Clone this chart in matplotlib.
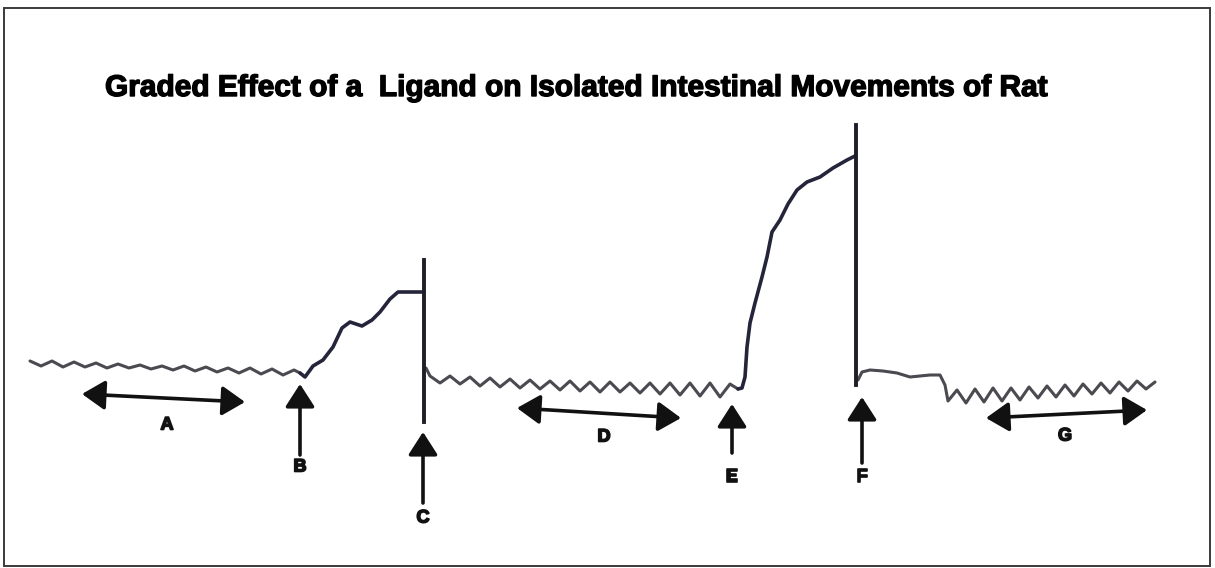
import matplotlib.pyplot as plt
import matplotlib.patheffects as pe
from matplotlib.patches import Rectangle, FancyArrowPatch

# trace (pixel coords, y down)
base_a_x = [30, 41, 52, 63, 74, 85, 96, 107, 118, 129, 140, 151, 162, 173, 184,
            195, 206, 217, 228, 239, 250, 261, 272, 283, 294, 300]
base_a_y = [361, 366, 361, 367, 362, 367, 363, 368, 364, 368, 365, 369, 366, 370, 366,
            371, 367, 372, 368, 373, 368, 374, 369, 375, 370, 373]

rise_bc_x = [300, 305, 313, 323, 333, 342, 350, 362, 372, 380, 390, 398, 424]
rise_bc_y = [373, 377, 366, 360, 347, 328, 322, 326, 320, 312, 299, 292, 292]

base_d_x = [426, 430, 440, 450, 460, 470, 480, 490, 500, 510, 520, 530, 540, 550,
            560, 570, 580, 590, 600, 610, 620, 630, 640, 650, 660, 670, 680, 690,
            700, 710, 720, 730, 738]
base_d_y = [368, 376, 383, 376, 384, 377, 386, 378, 387, 379, 388, 380, 389, 381,
            390, 381, 391, 382, 392, 382, 392, 383, 393, 383, 394, 383, 395, 383,
            396, 383, 397, 384, 389]

rise_ef_x = [738, 742, 745, 747, 750, 755, 762, 767, 772, 780, 788, 797, 807, 820,
             833, 847, 855]
rise_ef_y = [389, 388, 377, 347, 323, 303, 277, 257, 232, 220, 204, 190, 182, 177,
             168, 160, 156]

base_g_x = [858, 862, 870, 883, 897, 910, 930, 940, 945, 948, 957, 966, 975, 984,
            993, 1002, 1011, 1020, 1029, 1038, 1047, 1056, 1065, 1074, 1083, 1092,
            1101, 1110, 1119, 1128, 1137, 1146, 1155]
base_g_y = [380, 372, 370, 371, 373, 377, 375, 375, 385, 401, 390, 403, 389, 402,
            388, 401, 388, 400, 387, 398, 386, 397, 385, 396, 384, 394, 383, 393,
            382, 391, 381, 389, 382]

# vertical wash-out spikes at C and F: x, top, bottom
spike_x = [424, 856]
spike_top = [260, 125]
spike_bot = [422, 385]

# single up-arrows (drug additions)
up_labels = ['B', 'C', 'E', 'F']
up_x = [300, 423, 732, 862]
up_tip = [384, 432, 404, 397]
up_tail = [455, 503, 453, 463]
up_label_y = [467, 518, 477, 477]

# double arrows marking periods
span_labels = ['A', 'D', 'G']
span_x0 = [82, 517, 986]
span_y0 = [394, 408, 418]
span_x1 = [245, 681, 1147]
span_y1 = [402, 418, 410]
span_label_x = [167, 604, 1065]
span_label_y = [425, 437, 436]

title = 'Graded Effect of a  Ligand on Isolated Intestinal Movements of Rat'

fig = plt.figure(figsize=(12.15, 5.68), dpi=100)
ax = fig.add_axes([0, 0, 1, 1])
ax.set_xlim(0, 1215)
ax.set_ylim(568, 0)
ax.axis('off')

ax.add_patch(Rectangle((4, 8), 1206, 558, fill=False, edgecolor='#3a3a3a', lw=1.4))

wave_kw = dict(color='#4a4a50', lw=2.2, solid_joinstyle='round', solid_capstyle='round')
rise_kw = dict(color='#24243a', lw=2.6, solid_joinstyle='round', solid_capstyle='round')
ax.plot(base_a_x, base_a_y, **wave_kw)
ax.plot(rise_bc_x, rise_bc_y, **rise_kw)
ax.plot(base_d_x, base_d_y, **wave_kw)
ax.plot(rise_ef_x, rise_ef_y, **rise_kw)
ax.plot(base_g_x, base_g_y, **wave_kw)
for x, t, b in zip(spike_x, spike_top, spike_bot):
    ax.plot([x, x], [t, b], color='#1e1e28', lw=2.8)

heavy = [pe.withStroke(linewidth=1.2, foreground='#111111')]
lab_kw = dict(fontsize=13, fontweight='heavy', ha='center', va='center',
              family=['Liberation Sans', 'DejaVu Sans'], color='#111111',
              path_effects=heavy)

for lab, x, tip, tail, ly in zip(up_labels, up_x, up_tip, up_tail, up_label_y):
    ax.add_patch(FancyArrowPatch((x, tail), (x, tip), arrowstyle='-|>,head_length=7,head_width=4.5',
                                 mutation_scale=2.0, color='#111111', lw=2.6,
                                 shrinkA=0, shrinkB=0))
    ax.text(x, ly, lab, **lab_kw)

for lab, x0, y0, x1, y1, lx, ly in zip(span_labels, span_x0, span_y0, span_x1, span_y1,
                                        span_label_x, span_label_y):
    ax.add_patch(FancyArrowPatch((x0, y0), (x1, y1), arrowstyle='<|-|>,head_length=7,head_width=4.5',
                                 mutation_scale=2.0, color='#111111', lw=2.6,
                                 shrinkA=0, shrinkB=0))
    ax.text(lx, ly, lab, **lab_kw)

t = ax.text(105, 88, title, fontsize=20, fontweight='bold', ha='left', va='center',
            family=['Liberation Sans Narrow', 'Liberation Sans'], color='#000000',
            path_effects=[pe.withStroke(linewidth=1.0, foreground='#000000')])
# fit title width to the scan (about 943 px)
fig.canvas.draw()
w = t.get_window_extent().width
t.set_fontsize(20 * 943 / w)

fig.savefig('out.png', dpi=100)
